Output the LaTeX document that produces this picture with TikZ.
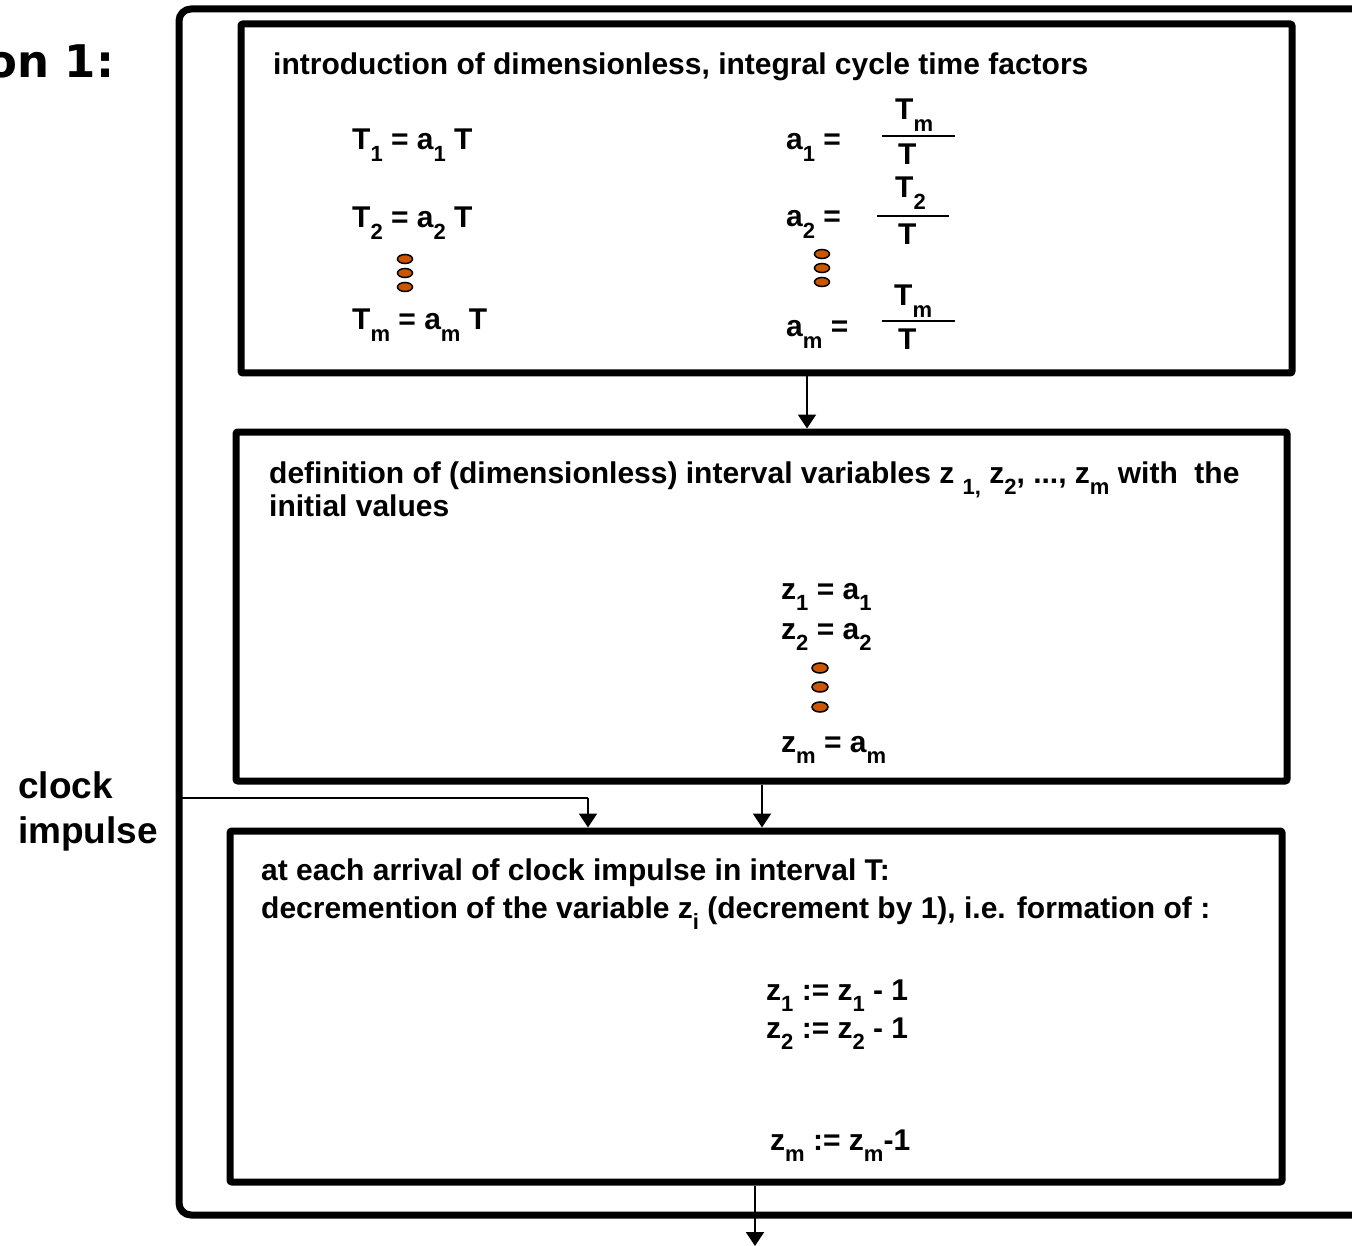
\documentclass[tikz,border=0pt]{standalone}
\usepackage{fontspec}
\setmainfont{Liberation Sans}
\newfontfamily\titlefont{DejaVu Sans}
\usetikzlibrary{arrows.meta}
\definecolor{dotorange}{RGB}{204,85,0}
\newcommand{\sbs}[1]{\raisebox{-0.37em}{\fontsize{22}{22}\selectfont #1}}
\begin{document}
\begin{tikzpicture}[x=1pt,y=-1pt,
  box/.style={draw, line width=7pt, rounded corners=2pt, inner sep=0pt},
  outerframe/.style={draw, line width=7pt, rounded corners=12pt, inner sep=0pt},
  txt/.style={anchor=base west, inner sep=0pt, font=\fontsize{30}{30}\selectfont\bfseries},
  side/.style={anchor=base west, inner sep=0pt, font=\fontsize{37}{37}\selectfont\bfseries},
  conn/.style={line width=2pt, -{Triangle[length=14pt,width=18pt]}},
  plain/.style={line width=2pt},
  bar/.style={line width=2.5pt},
  dotmark/.style={draw=black, line width=1.5pt, fill=dotorange}
]
\useasboundingbox (0,0) rectangle (1352,1246);
\clip (0,0) rectangle (1352,1246);

% title fragment
\node[anchor=base west, inner sep=0pt, font=\fontsize{45}{45}\selectfont\titlefont\bfseries] (title) at (-14,78) {on 1:};

% outer frame
\node[outerframe, minimum width=1250pt, minimum height=1206pt] (outer) at (804,612) {};

% boxes
\node[box, minimum width=1051pt, minimum height=349pt] (b1) at (766.5,198.5) {};
\node[box, minimum width=1051pt, minimum height=349pt] (b2) at (761.5,606.5) {};
\node[box, minimum width=1052pt, minimum height=351pt] (b3) at (756,1006.5) {};

% box 1 content
\node[txt] (t1) at (273,75) {introduction of dimensionless, integral cycle time factors};
\node[txt] (e1) at (352,150) {T\sbs{1} = a\sbs{1} T};
\node[txt] (e2) at (352,228) {T\sbs{2} = a\sbs{2} T};
\node[txt] (e3) at (352,330) {T\sbs{m} = a\sbs{m} T};
\node[txt] (f1) at (786,150) {a\sbs{1} =};
\node[txt] (f2) at (786,227) {a\sbs{2} =};
\node[txt] (f3) at (786,337) {a\sbs{m} =};
\node[txt] (n1) at (895,120) {T\sbs{m}};
\node[txt] (d1) at (898,165) {T};
\node[txt] (n2) at (895,198) {T\sbs{2}};
\node[txt] (d2) at (898,245) {T};
\node[txt] (n3) at (894,306) {T\sbs{m}};
\node[txt] (d3) at (898,350) {T};
\draw[bar] (882,136) -- (955,136);
\draw[bar] (877,216) -- (949,216);
\draw[bar] (882,321) -- (955,321);
\foreach \yy in {259,273,287} \draw[dotmark] (405,\yy) ellipse [x radius=7.5pt, y radius=4.5pt];
\foreach \yy in {254,268,282} \draw[dotmark] (822,\yy) ellipse [x radius=7.5pt, y radius=4.5pt];

% box 2 content
\node[txt] (t2a) at (269,483) {definition of (dimensionless) interval variables z \sbs{1,} z\sbs{2}, ..., z\sbs{m} with \ the};
\node[txt] (t2b) at (269,516) {initial values};
\node[txt] (z1) at (781,599) {z\sbs{1} = a\sbs{1}};
\node[txt] (z2) at (781,639) {z\sbs{2} = a\sbs{2}};
\node[txt] (z3) at (781,752) {z\sbs{m} = a\sbs{m}};
\foreach \yy in {668,687,707} \draw[dotmark] (820,\yy) ellipse [x radius=8pt, y radius=5pt];

% box 3 content
\node[txt] (t3a) at (261,880) {at each arrival of clock impulse in interval T:};
\node[txt] (t3b) at (261,918) {decremention of the variable z\sbs{i} (decrement by 1), i.e. formation of :};
\node[txt] (y1) at (766,1000) {z\sbs{1} := z\sbs{1} - 1};
\node[txt] (y2) at (766,1038) {z\sbs{2} := z\sbs{2} - 1};
\node[txt] (y3) at (770,1150) {z\sbs{m} := z\sbs{m}-1};

% clock impulse
\node[side] (clk1) at (18,798) {clock};
\node[side] (clk2) at (18,843) {impulse};

% connectors
\coordinate (a12) at (807,0);
\coordinate (a23) at (762,0);
\coordinate (ck) at (588,798);
\coordinate (endpt) at (755,1246);
\draw[conn] (b1.south -| a12) -- (b2.north -| a12);
\draw[conn] (b2.south -| a23) -- (b3.north -| a23);
\draw[plain] (outer.west |- ck) -- (ck);
\draw[conn] (ck) -- (b3.north -| ck);
\draw[conn] (b3.south -| endpt) -- (endpt);
\end{tikzpicture}
\end{document}
